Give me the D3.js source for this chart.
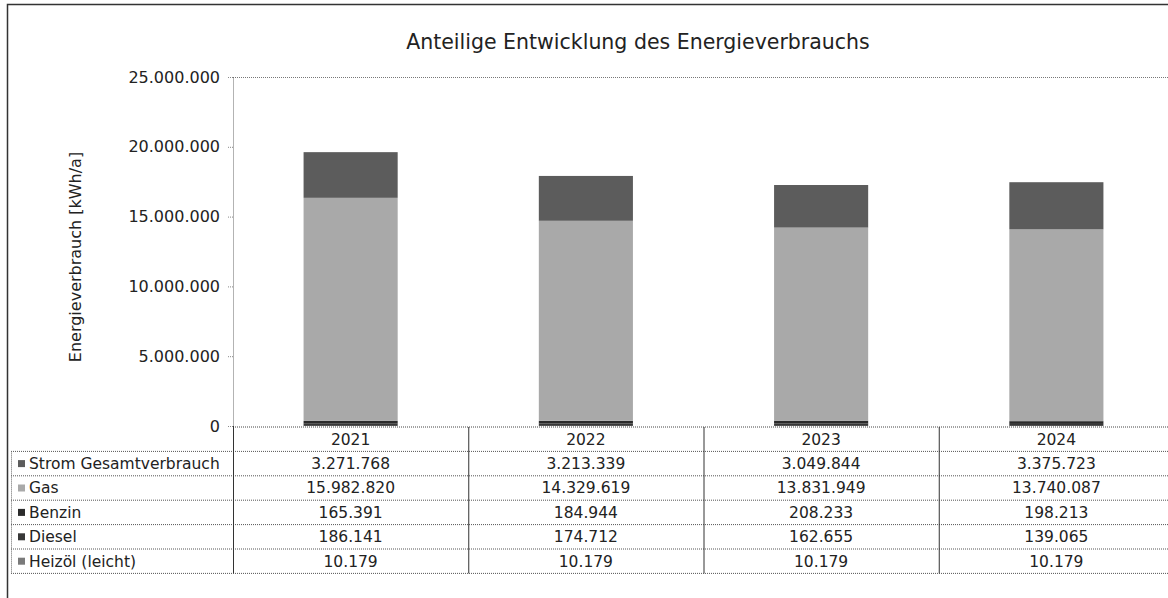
<!DOCTYPE html>
<html>
<head>
<meta charset="utf-8">
<script src="https://cdn.jsdelivr.net/npm/d3@7"></script>
<style>
  body { margin: 0; background: #fff; }
  svg { display: block; font-family: "DejaVu Sans", Verdana, sans-serif; }
</style>
</head>
<body>
<svg id="chart" width="1168" height="598"></svg>
<script>
var years = ['2021', '2022', '2023', '2024'];
var seriesNames = ['Strom Gesamtverbrauch', 'Gas', 'Benzin', 'Diesel', 'Heizöl (leicht)'];
var strom = [3271768, 3213339, 3049844, 3375723];
var gas = [15982820, 14329619, 13831949, 13740087];
var benzin = [165391, 184944, 208233, 198213];
var diesel = [186141, 174712, 162655, 139065];
var heizoel = [10179, 10179, 10179, 10179];
var yTicks = [0, 5000000, 10000000, 15000000, 20000000, 25000000];

var seriesValues = [strom, gas, benzin, diesel, heizoel];
var seriesColors = ['#5c5c5c', '#a9a9a9', '#2b2b2b', '#383838', '#7a7a7a'];

var de = d3.formatLocale({ decimal: ',', thousands: '.', grouping: [3], currency: ['', ' €'] });
var fmt = de.format(',d');

var svg = d3.select('#chart');
var plot = { left: 233, right: 1174, top: 77, bottom: 426 };
var rowH = 24.4;
var headerTop = 427;
var legendLeft = 11;
var cellFont = 15.5;

// rows for the stack, one object per year
var rows = years.map(function(yr, i) {
  var r = { year: yr };
  seriesNames.forEach(function(s, j) { r[s] = seriesValues[j][i]; });
  return r;
});

// bottom of the bar is the last series of the table
var stackKeys = seriesNames.slice().reverse();
var stacked = d3.stack().keys(stackKeys)(rows);

var x = d3.scaleBand().domain(years).range([plot.left, plot.right]).padding(0);
var y = d3.scaleLinear().domain([0, 25000000]).range([plot.bottom, plot.top]);
var color = d3.scaleOrdinal().domain(seriesNames).range(seriesColors);

// outer frame
svg.append('rect')
  .attr('x', 7.5).attr('y', 4.5)
  .attr('width', 1180).attr('height', 620)
  .attr('fill', 'none').attr('stroke', '#333').attr('stroke-width', 1.5);

// title
svg.append('text')
  .attr('x', 638).attr('y', 49)
  .attr('text-anchor', 'middle')
  .attr('font-size', 20.5).attr('fill', '#222')
  .text('Anteilige Entwicklung des Energieverbrauchs');

// plot frame (top line, dotted)
svg.append('line')
  .attr('x1', plot.left).attr('x2', 1168)
  .attr('y1', plot.top + 0.5).attr('y2', plot.top + 0.5)
  .attr('stroke', '#777').attr('stroke-dasharray', '1,1');

// bars
var barW = x.bandwidth() * 0.4;
svg.append('g').attr('class', 'bars')
  .selectAll('g.series')
  .data(stacked)
  .join('g')
    .attr('class', 'series')
    .attr('fill', function(d) { return color(d.key); })
  .selectAll('rect')
  .data(function(d) { return d; })
  .join('rect')
    .attr('x', function(d) { return x(d.data.year) + (x.bandwidth() - barW) / 2; })
    .attr('width', barW)
    .attr('y', function(d) { return y(d[1]); })
    .attr('height', function(d) { return y(d[0]) - y(d[1]); });

// y axis
var yAxis = svg.append('g')
  .attr('transform', 'translate(' + plot.left + ',0)')
  .call(d3.axisLeft(y).tickValues(yTicks).tickFormat(fmt).tickSize(5).tickSizeOuter(0).tickPadding(8));
yAxis.select('.domain').attr('stroke', '#666').attr('stroke-dasharray', '1,1');
yAxis.selectAll('.tick line').attr('stroke', '#888').attr('stroke-dasharray', '1,1');
yAxis.selectAll('.tick text').attr('font-size', 16).attr('fill', '#222')
  .attr('font-family', '"DejaVu Sans", Verdana, sans-serif');

svg.append('text')
  .attr('transform', 'translate(81,257) rotate(-90)')
  .attr('text-anchor', 'middle')
  .attr('font-size', 16).attr('fill', '#222')
  .text('Energieverbrauch [kWh/a]');

// data table
var table = svg.append('g').attr('class', 'table');
var tableBottom = headerTop + rowH + seriesNames.length * rowH;

// header row lines
table.append('line')
  .attr('x1', plot.left).attr('x2', 1168)
  .attr('y1', headerTop).attr('y2', headerTop)
  .attr('stroke', '#444').attr('stroke-dasharray', '1,1');

table.selectAll('text.year')
  .data(years)
  .join('text')
    .attr('class', 'year')
    .attr('x', function(d) { return x(d) + x.bandwidth() / 2; })
    .attr('y', headerTop + rowH / 2 + 5.5)
    .attr('text-anchor', 'middle')
    .attr('font-size', cellFont).attr('fill', '#222')
    .text(function(d) { return d; });

// horizontal row lines
var lineYs = d3.range(seriesNames.length + 1).map(function(i) { return headerTop + rowH * (i + 1); });
table.selectAll('line.row')
  .data(lineYs)
  .join('line')
    .attr('class', 'row')
    .attr('x1', legendLeft).attr('x2', 1168)
    .attr('y1', function(d) { return d; }).attr('y2', function(d) { return d; })
    .attr('stroke', '#555').attr('stroke-dasharray', '1,1');

// vertical lines
table.selectAll('line.col')
  .data(years.slice(1))
  .join('line')
    .attr('class', 'col')
    .attr('x1', function(d) { return x(d) + 0.5; }).attr('x2', function(d) { return x(d) + 0.5; })
    .attr('y1', headerTop).attr('y2', tableBottom)
    .attr('stroke', '#333');
table.append('line')
  .attr('x1', plot.left + 0.5).attr('x2', plot.left + 0.5)
  .attr('y1', plot.bottom).attr('y2', tableBottom)
  .attr('stroke', '#333');
table.append('line')
  .attr('x1', legendLeft + 0.5).attr('x2', legendLeft + 0.5)
  .attr('y1', headerTop + rowH).attr('y2', tableBottom)
  .attr('stroke', '#666').attr('stroke-dasharray', '1,1');

// legend cells and values
var rowG = table.selectAll('g.serie')
  .data(seriesNames)
  .join('g')
    .attr('class', 'serie')
    .attr('transform', function(d, i) { return 'translate(0,' + (headerTop + rowH * (i + 1)) + ')'; });

rowG.append('rect')
  .attr('x', legendLeft + 7).attr('y', rowH / 2 - 3.5)
  .attr('width', 7).attr('height', 7)
  .attr('fill', function(d) { return color(d); });

rowG.append('text')
  .attr('x', legendLeft + 18).attr('y', rowH / 2 + 5.5)
  .attr('font-size', cellFont).attr('fill', '#222')
  .text(function(d) { return d; });

rowG.each(function(name, j) {
  d3.select(this).selectAll('text.val')
    .data(seriesValues[j])
    .join('text')
      .attr('class', 'val')
      .attr('x', function(d, i) { return x(years[i]) + x.bandwidth() / 2; })
      .attr('y', rowH / 2 + 5.5)
      .attr('text-anchor', 'middle')
      .attr('font-size', cellFont).attr('fill', '#222')
      .text(function(d) { return fmt(d); });
});
</script>
</body>
</html>
